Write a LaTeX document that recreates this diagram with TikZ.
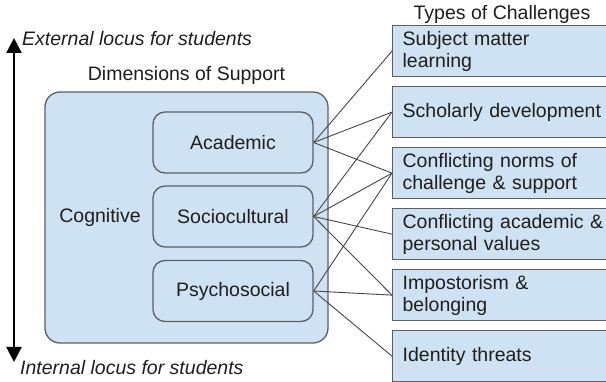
\documentclass[tikz,border=0pt]{standalone}
\usepackage{fontspec}
\setmainfont{Liberation Sans}
\usetikzlibrary{arrows.meta}
\definecolor{boxfill}{RGB}{207,226,243}
\definecolor{boxline}{RGB}{90,96,102}
\definecolor{linkline}{RGB}{70,70,70}
\definecolor{textcol}{RGB}{30,30,30}
\begin{document}
\begin{tikzpicture}[x=1pt,y=-1pt,
  every node/.style={font=\fontsize{19.5}{22}\selectfont, text=textcol, inner sep=0pt},
  outerbox/.style={draw=boxline, line width=1.3pt, fill=boxfill, rounded corners=15pt},
  dimbox/.style={draw=boxline, line width=1.3pt, fill=boxfill, rounded corners=12pt,
    minimum width=160pt, minimum height=61pt},
  challenge/.style={draw=boxline, line width=1.3pt, fill=boxfill, anchor=north west,
    minimum width=230pt, minimum height=51pt, text width=210pt, align=left,
    inner xsep=10pt},
  link/.style={draw=linkline, line width=0.9pt},
  locus/.style={font=\fontsize{19.5}{22}\selectfont\itshape, anchor=west}
]
\useasboundingbox (0,0) rectangle (606,382);
\begin{scope}
\clip (0,0) rectangle (606,382);

% vertical locus arrow
\coordinate (top) at (14,38);
\coordinate (bottom) at (14,362);
\draw[line width=2.2pt, {Triangle[width=15pt,length=15pt]}-{Triangle[width=15pt,length=15pt]}] (top) -- (bottom);
\node[locus] (ext) at (22,39) {External locus for students};
\node[locus] (int) at (20,368) {Internal locus for students};

% dimensions of support
\node (dimtitle) at (186.5,75) {Dimensions of Support};
\draw[outerbox] (45,92) rectangle (328,343);
\node (cog) at (100,217) {Cognitive};
\node[dimbox] (acad) at (233,142.5) {Academic};
\node[dimbox] (socio) at (233,216.5) {Sociocultural};
\node[dimbox] (psych) at (233,291) {Psychosocial};

% types of challenges
\node (chtitle) at (502,14) {Types of Challenges};
\node[challenge] (c1) at (392,25)  {Subject matter\\learning};
\node[challenge] (c2) at (392,86)  {Scholarly development};
\node[challenge] (c3) at (392,147) {Conflicting norms of\\challenge \& support};
\node[challenge] (c4) at (392,208) {Conflicting academic \&\\personal values};
\node[challenge] (c5) at (392,269) {Impostorism \&\\belonging};
\node[challenge] (c6) at (392,330) {Identity threats};

% links between dimensions and challenges
\draw[link] (acad.east) -- (c1.west);
\draw[link] (acad.east) -- (c2.west);
\draw[link] (acad.east) -- (c3.west);
\draw[link] (socio.east) -- (c2.west);
\draw[link] (socio.east) -- (c3.west);
\draw[link] (socio.east) -- (c4.west);
\draw[link] (socio.east) -- (c5.west);
\draw[link] (psych.east) -- (c3.west);
\draw[link] (psych.east) -- (c5.west);
\draw[link] (psych.east) -- (c6.west);
\end{scope}
\end{tikzpicture}
\end{document}
